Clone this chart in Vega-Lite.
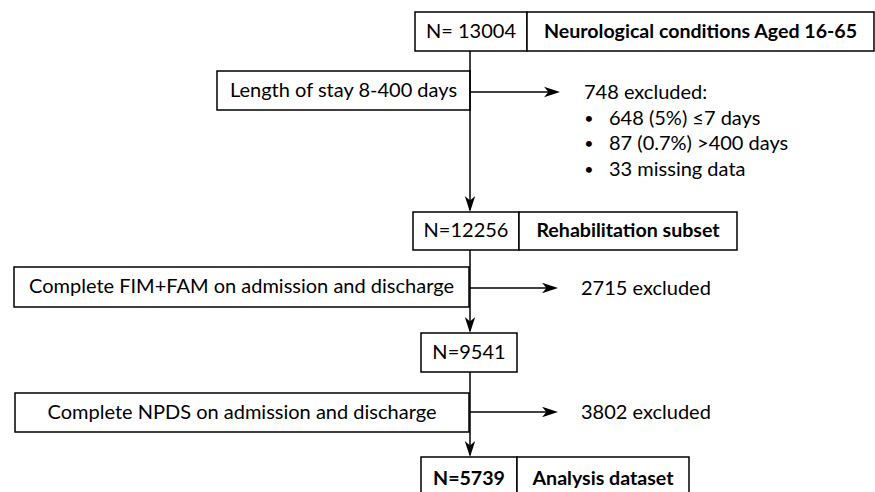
{
  "$schema": "https://vega.github.io/schema/vega-lite/v6.json",
  "width": 875,
  "height": 492,
  "autosize": {"type": "none"},
  "padding": 0,
  "background": "white",
  "config": {"view": {"stroke": null}},
  "datasets": {
    "boxes": [
      {"x1": 415, "x2": 527, "y1": 12, "y2": 51, "label": "N= 13004", "kind": "plain"},
      {"x1": 527, "x2": 874, "y1": 12, "y2": 51, "label": "Neurological conditions Aged 16-65", "kind": "bold"},
      {"x1": 217, "x2": 470, "y1": 71, "y2": 110, "label": "Length of stay 8-400 days", "kind": "plain"},
      {"x1": 413, "x2": 519, "y1": 212, "y2": 250, "label": "N=12256", "kind": "plain"},
      {"x1": 519, "x2": 737, "y1": 212, "y2": 250, "label": "Rehabilitation subset", "kind": "bold"},
      {"x1": 14, "x2": 469, "y1": 267, "y2": 307, "label": "Complete FIM+FAM on admission and discharge", "kind": "plain"},
      {"x1": 421, "x2": 517, "y1": 333, "y2": 372, "label": "N=9541", "kind": "plain"},
      {"x1": 15, "x2": 469, "y1": 393, "y2": 432, "label": "Complete NPDS on admission and discharge", "kind": "plain"},
      {"x1": 421, "x2": 517, "y1": 457, "y2": 501, "label": "N=5739", "kind": "bold"},
      {"x1": 517, "x2": 689, "y1": 457, "y2": 501, "label": "Analysis dataset", "kind": "bold"}
    ],
    "lines": [
      {"x1": 470, "x2": 470, "y1": 51, "y2": 210},
      {"x1": 470, "x2": 470, "y1": 250, "y2": 331},
      {"x1": 470, "x2": 470, "y1": 372, "y2": 455},
      {"x1": 470, "x2": 556, "y1": 92, "y2": 92},
      {"x1": 470, "x2": 554, "y1": 288, "y2": 288},
      {"x1": 470, "x2": 554, "y1": 412, "y2": 412}
    ],
    "heads": [
      {"x": 470, "y": 204, "dir": "down"},
      {"x": 470, "y": 325, "dir": "down"},
      {"x": 470, "y": 449, "dir": "down"},
      {"x": 552, "y": 92, "dir": "right"},
      {"x": 550, "y": 288, "dir": "right"},
      {"x": 550, "y": 412, "dir": "right"}
    ],
    "notes": [
      {"x": 584, "y": 93, "label": "748 excluded:"},
      {"x": 609, "y": 119, "label": "648 (5%) ≤7 days"},
      {"x": 609, "y": 144, "label": "87 (0.7%) >400 days"},
      {"x": 609, "y": 170, "label": "33 missing data"},
      {"x": 581, "y": 289, "label": "2715 excluded"},
      {"x": 581, "y": 413, "label": "3802 excluded"}
    ],
    "bullets": [
      {"x": 589, "y": 119, "label": "•"},
      {"x": 589, "y": 144, "label": "•"},
      {"x": 589, "y": 170, "label": "•"}
    ]
  },
  "layer": [
    {
      "data": {"name": "boxes"},
      "mark": {"type": "rect", "fill": "white", "stroke": "black", "strokeWidth": 1.5, "clip": true},
      "encoding": {
        "x": {"field": "x1", "type": "quantitative", "scale": {"domain": [0, 875], "nice": false, "zero": false}, "axis": null},
        "x2": {"field": "x2"},
        "y": {"field": "y1", "type": "quantitative", "scale": {"domain": [0, 492], "nice": false, "zero": false, "reverse": true}, "axis": null},
        "y2": {"field": "y2"}
      }
    },
    {
      "data": {"name": "lines"},
      "mark": {"type": "rule", "stroke": "black", "strokeWidth": 1.5},
      "encoding": {
        "x": {"field": "x1", "type": "quantitative"},
        "x2": {"field": "x2"},
        "y": {"field": "y1", "type": "quantitative"},
        "y2": {"field": "y2"}
      }
    },
    {
      "data": {"name": "heads"},
      "transform": [{"filter": "datum.dir == 'down'"}],
      "mark": {"type": "point", "filled": true, "color": "black", "size": 256, "opacity": 1, "shape": "M0,1 L-0.65,-1 L0,-0.45 L0.65,-1 Z"},
      "encoding": {
        "x": {"field": "x", "type": "quantitative"},
        "y": {"field": "y", "type": "quantitative"}
      }
    },
    {
      "data": {"name": "heads"},
      "transform": [{"filter": "datum.dir == 'right'"}],
      "mark": {"type": "point", "filled": true, "color": "black", "size": 256, "opacity": 1, "shape": "M1,0 L-1,-0.65 L-0.45,0 L-1,0.65 Z"},
      "encoding": {
        "x": {"field": "x", "type": "quantitative"},
        "y": {"field": "y", "type": "quantitative"}
      }
    },
    {
      "data": {"name": "boxes"},
      "transform": [{"calculate": "(datum.x1 + datum.x2) / 2", "as": "cx"}, {"calculate": "(datum.y1 + datum.y2) / 2", "as": "cy"}, {"filter": "datum.kind == 'plain'"}],
      "mark": {"type": "text", "font": "Lato", "fontSize": 20, "align": "center", "baseline": "middle", "color": "black"},
      "encoding": {
        "x": {"field": "cx", "type": "quantitative"},
        "y": {"field": "cy", "type": "quantitative"},
        "text": {"field": "label"}
      }
    },
    {
      "data": {"name": "boxes"},
      "transform": [{"calculate": "(datum.x1 + datum.x2) / 2", "as": "cx"}, {"calculate": "(datum.y1 + datum.y2) / 2", "as": "cy"}, {"filter": "datum.kind == 'bold'"}],
      "mark": {"type": "text", "font": "Lato", "fontSize": 19.6, "fontWeight": "bold", "align": "center", "baseline": "middle", "color": "black"},
      "encoding": {
        "x": {"field": "cx", "type": "quantitative"},
        "y": {"field": "cy", "type": "quantitative"},
        "text": {"field": "label"}
      }
    },
    {
      "data": {"name": "notes"},
      "mark": {"type": "text", "font": "Lato", "fontSize": 20, "align": "left", "baseline": "middle", "color": "black"},
      "encoding": {
        "x": {"field": "x", "type": "quantitative"},
        "y": {"field": "y", "type": "quantitative"},
        "text": {"field": "label"}
      }
    },
    {
      "data": {"name": "bullets"},
      "mark": {"type": "text", "font": "Lato", "fontSize": 16, "align": "center", "baseline": "middle", "color": "black"},
      "encoding": {
        "x": {"field": "x", "type": "quantitative"},
        "y": {"field": "y", "type": "quantitative"},
        "text": {"field": "label"}
      }
    }
  ]
}
